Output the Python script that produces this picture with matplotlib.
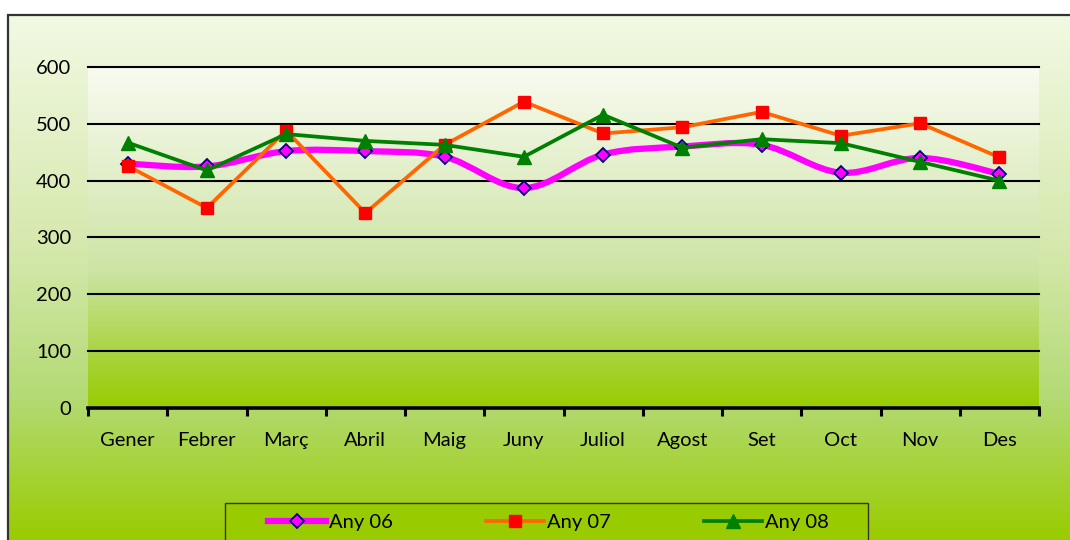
import numpy as np
import matplotlib
matplotlib.use("Agg")
import matplotlib.pyplot as plt
from matplotlib.path import Path
from matplotlib.patches import PathPatch, Rectangle
from matplotlib.colors import LinearSegmentedColormap
from matplotlib.lines import Line2D

months = ["Gener", "Febrer", "Març", "Abril", "Maig", "Juny", "Juliol",
          "Agost", "Set", "Oct", "Nov", "Des"]
any06 = [430, 425, 452, 452, 442, 387, 446, 460, 463, 414, 440, 412]
any07 = [426, 352, 488, 343, 463, 539, 483, 494, 521, 479, 501, 441]
any08 = [467, 418, 482, 470, 463, 442, 516, 458, 473, 466, 433, 400]
series_names = ["Any 06", "Any 07", "Any 08"]
yticks = [0, 100, 200, 300, 400, 500, 600]

plt.rcParams['font.family'] = ['Lato', 'DejaVu Sans']
FS = 14.5

W, H = 1070, 540
fig = plt.figure(figsize=(W / 100, H / 100), dpi=100)
fig.patch.set_facecolor("white")

# outer chart area gradient
bx0, by_top = 8 / W, 1 - 15 / H
bg = fig.add_axes([bx0, 0, 1 - bx0, by_top], zorder=-5)
outer_cmap = LinearSegmentedColormap.from_list(
    "outer", [(0, "#99cc00"), (0.27, "#b3da74"), (0.55, "#d5e8ac"),
              (1.0, "#f2f9e3")])
grad = np.linspace(0, 1, 256).reshape(-1, 1)
bg.imshow(grad, aspect="auto", cmap=outer_cmap, origin="lower",
          extent=[0, 1, 0, 1])
bg.set_xlim(0, 1); bg.set_ylim(0, 1)
bg.axis("off")
fig.patches.append(Rectangle((bx0, -0.1), 1.2, by_top + 0.1,
                             transform=fig.transFigure, fill=False,
                             edgecolor="#333333", linewidth=1.6, zorder=10))

# plot area
left, right, top, bottom = 88, 1039, 67, 408
ax = fig.add_axes([left / W, 1 - bottom / H, (right - left) / W,
                   (bottom - top) / H])
ax.patch.set_alpha(0)
inner_cmap = LinearSegmentedColormap.from_list(
    "inner", [(0, "#99cc00"), (0.15, "#a8d33c"), (0.4, "#cde4a5"),
              (1.0, "#f9fbf1")])
ax.imshow(grad, aspect="auto", cmap=inner_cmap, origin="lower",
          extent=[0, 1, 0, 1], transform=ax.transAxes, zorder=0)

x = np.arange(len(months))
ax.set_xlim(-0.5, len(months) - 0.5)
ax.set_ylim(0, 600)

for v in yticks[1:]:
    ax.axhline(v, color="black", linewidth=1.5, zorder=1, clip_on=False)

# smoothed curve for Any 06 (Catmull-Rom style bezier)
def smooth_path(xs, ys, t=1 / 6):
    pts = np.column_stack([xs, ys]).astype(float)
    verts = [pts[0]]
    codes = [Path.MOVETO]
    n = len(pts)
    for i in range(n - 1):
        p0 = pts[i - 1] if i > 0 else pts[i]
        p1 = pts[i]
        p2 = pts[i + 1]
        p3 = pts[i + 2] if i + 2 < n else pts[i + 1]
        c1 = p1 + (p2 - p0) * t
        c2 = p2 - (p3 - p1) * t
        verts += [c1, c2, p2]
        codes += [Path.CURVE4] * 3
    return Path(verts, codes)

ax.add_patch(PathPatch(smooth_path(x, any06), facecolor="none",
                       edgecolor="#ff00ff", linewidth=4.5, zorder=3,
                       capstyle="round", joinstyle="round"))
ax.plot(x, any06, linestyle="none", marker="D", markersize=7,
        markerfacecolor="#ff00ff", markeredgecolor="#000080",
        markeredgewidth=1.3, zorder=4)
ax.plot(x, any07, color="#ff6600", linewidth=2.7, marker="s",
        markersize=8.5, markerfacecolor="#ff0000", markeredgecolor="#ff0000",
        zorder=5)
ax.plot(x, any08, color="#008000", linewidth=2.7, marker="^",
        markersize=9.5, markerfacecolor="#008000", markeredgecolor="#008000",
        zorder=6)

for s in ["top", "right", "left"]:
    ax.spines[s].set_visible(False)
ax.spines["bottom"].set_linewidth(2.6)
ax.spines["bottom"].set_color("black")
ax.spines["bottom"].set_zorder(7)

ax.set_yticks(yticks)
ax.set_yticklabels([str(v) for v in yticks], fontsize=FS, color="black")
ax.tick_params(axis="y", length=0, pad=12)
ax.set_xticks(x)
ax.set_xticklabels(months, fontsize=FS, color="black")
ax.set_xticks(np.arange(-0.5, len(months)), minor=True)
ax.tick_params(axis="x", which="major", length=0, pad=17)
ax.tick_params(axis="x", which="minor", length=6, width=2.2,
               direction="out", color="black")

# legend box (cut by the bottom edge, as in the reference)
fig.patches.append(Rectangle((225 / W, -0.05), (868 - 225) / W,
                             1 - 503 / H + 0.05, transform=fig.transFigure,
                             facecolor="#99cc00", edgecolor="#333333",
                             linewidth=1.0, zorder=3))
handles = [
    Line2D([], [], color="#ff00ff", linewidth=4.5, marker="D", markersize=7,
           markerfacecolor="#ff00ff", markeredgecolor="#000080",
           markeredgewidth=1.3),
    Line2D([], [], color="#ff6600", linewidth=2.7, marker="s", markersize=8.5,
           markerfacecolor="#ff0000", markeredgecolor="#ff0000"),
    Line2D([], [], color="#008000", linewidth=2.7, marker="^", markersize=9.5,
           markerfacecolor="#008000", markeredgecolor="#008000"),
]
leg = fig.legend(handles, series_names, loc="center left",
                 bbox_to_anchor=(268 / W, 1 - 522 / H), ncol=3,
                 fontsize=FS, frameon=False,
                 handlelength=2.9, handletextpad=0.15, columnspacing=4.6,
                 borderpad=0, borderaxespad=0)
leg.set_zorder(5)

fig.savefig("out.png", dpi=100)
